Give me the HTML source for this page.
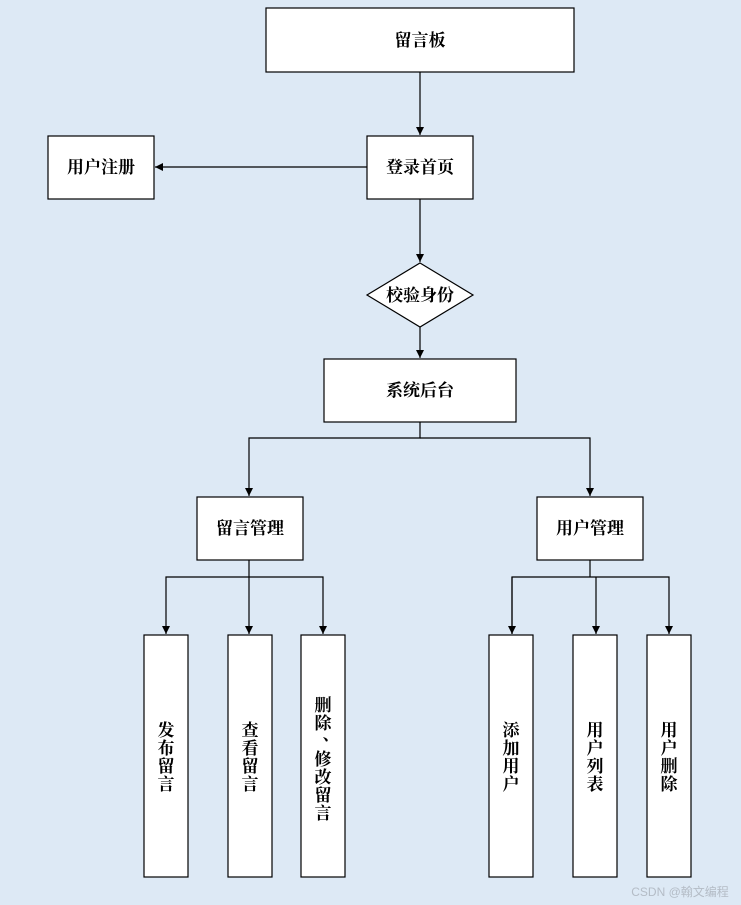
<!DOCTYPE html>
<html><head><meta charset="utf-8"><style>
html,body{margin:0;padding:0;background:#dde9f5;}
svg{display:block;}
text{font-family:"Liberation Serif","Noto Serif CJK SC",serif;font-size:17px;font-weight:bold;fill:#000;}
</style></head><body>
<svg width="741" height="905" viewBox="0 0 741 905" xmlns="http://www.w3.org/2000/svg">
<defs><marker id="a" markerWidth="8" markerHeight="8" refX="8" refY="4" orient="auto" markerUnits="userSpaceOnUse"><path d="M0,0 L8,4 L0,8 z" fill="#000"/></marker></defs>
<rect width="741" height="905" fill="#dde9f5"/>
<g fill="#fff" stroke="#000" stroke-width="1.2">
<rect x="266" y="8" width="308" height="64"/>
<rect x="367" y="136" width="106" height="63"/>
<rect x="48" y="136" width="106" height="63"/>
<polygon points="420,263 473,295 420,327 367,295"/>
<rect x="324" y="359" width="192" height="63"/>
<rect x="197" y="497" width="106" height="63"/>
<rect x="537" y="497" width="106" height="63"/>
<rect x="144" y="635" width="44" height="242"/>
<rect x="228" y="635" width="44" height="242"/>
<rect x="301" y="635" width="44" height="242"/>
<rect x="489" y="635" width="44" height="242"/>
<rect x="573" y="635" width="44" height="242"/>
<rect x="647" y="635" width="44" height="242"/>
</g>
<g stroke="#000" stroke-width="1.2" fill="none">
<line x1="420" y1="72" x2="420" y2="135" marker-end="url(#a)"/>
<line x1="367" y1="167" x2="155" y2="167" marker-end="url(#a)"/>
<line x1="420" y1="199" x2="420" y2="262" marker-end="url(#a)"/>
<line x1="420" y1="327" x2="420" y2="358" marker-end="url(#a)"/>
<polyline points="420,422 420,438 249,438 249,496" marker-end="url(#a)"/>
<polyline points="420,438 590,438 590,496" marker-end="url(#a)"/>
<line x1="249" y1="560" x2="249" y2="634" marker-end="url(#a)"/>
<polyline points="249,577 166,577 166,634" marker-end="url(#a)"/>
<polyline points="249,577 323,577 323,634" marker-end="url(#a)"/>
<line x1="590" y1="560" x2="590" y2="577"/>
<line x1="596" y1="577" x2="596" y2="634" marker-end="url(#a)"/>
<polyline points="512,634 512,577 669,577 669,634" marker-end="url(#a)"/>
<line x1="512" y1="577" x2="512" y2="634" marker-end="url(#a)"/>
</g>
<g text-anchor="middle">
<text x="420" y="46">留言板</text>
<text x="420" y="173">登录首页</text>
<text x="101" y="173">用户注册</text>
<text x="420" y="301">校验身份</text>
<text x="420" y="396">系统后台</text>
<text x="250" y="534">留言管理</text>
<text x="590" y="534">用户管理</text>
<text x="166" y="736">发</text><text x="166" y="754">布</text><text x="166" y="772">留</text><text x="166" y="790">言</text>
<text x="250" y="736">查</text><text x="250" y="754">看</text><text x="250" y="772">留</text><text x="250" y="790">言</text>
<text x="323" y="711">删</text><text x="323" y="729">除</text><text x="331" y="740">、</text><text x="323" y="765">修</text><text x="323" y="783">改</text><text x="323" y="801">留</text><text x="323" y="819">言</text>
<text x="511" y="736">添</text><text x="511" y="754">加</text><text x="511" y="772">用</text><text x="511" y="790">户</text>
<text x="595" y="736">用</text><text x="595" y="754">户</text><text x="595" y="772">列</text><text x="595" y="790">表</text>
<text x="669" y="736">用</text><text x="669" y="754">户</text><text x="669" y="772">删</text><text x="669" y="790">除</text>
</g>
<text x="680" y="896" text-anchor="middle" style="font-family:'Liberation Sans','Noto Sans CJK SC',sans-serif;font-size:12px;font-weight:normal;fill:#b4bcc6;">CSDN @翰文编程</text>
</svg>
</body></html>
